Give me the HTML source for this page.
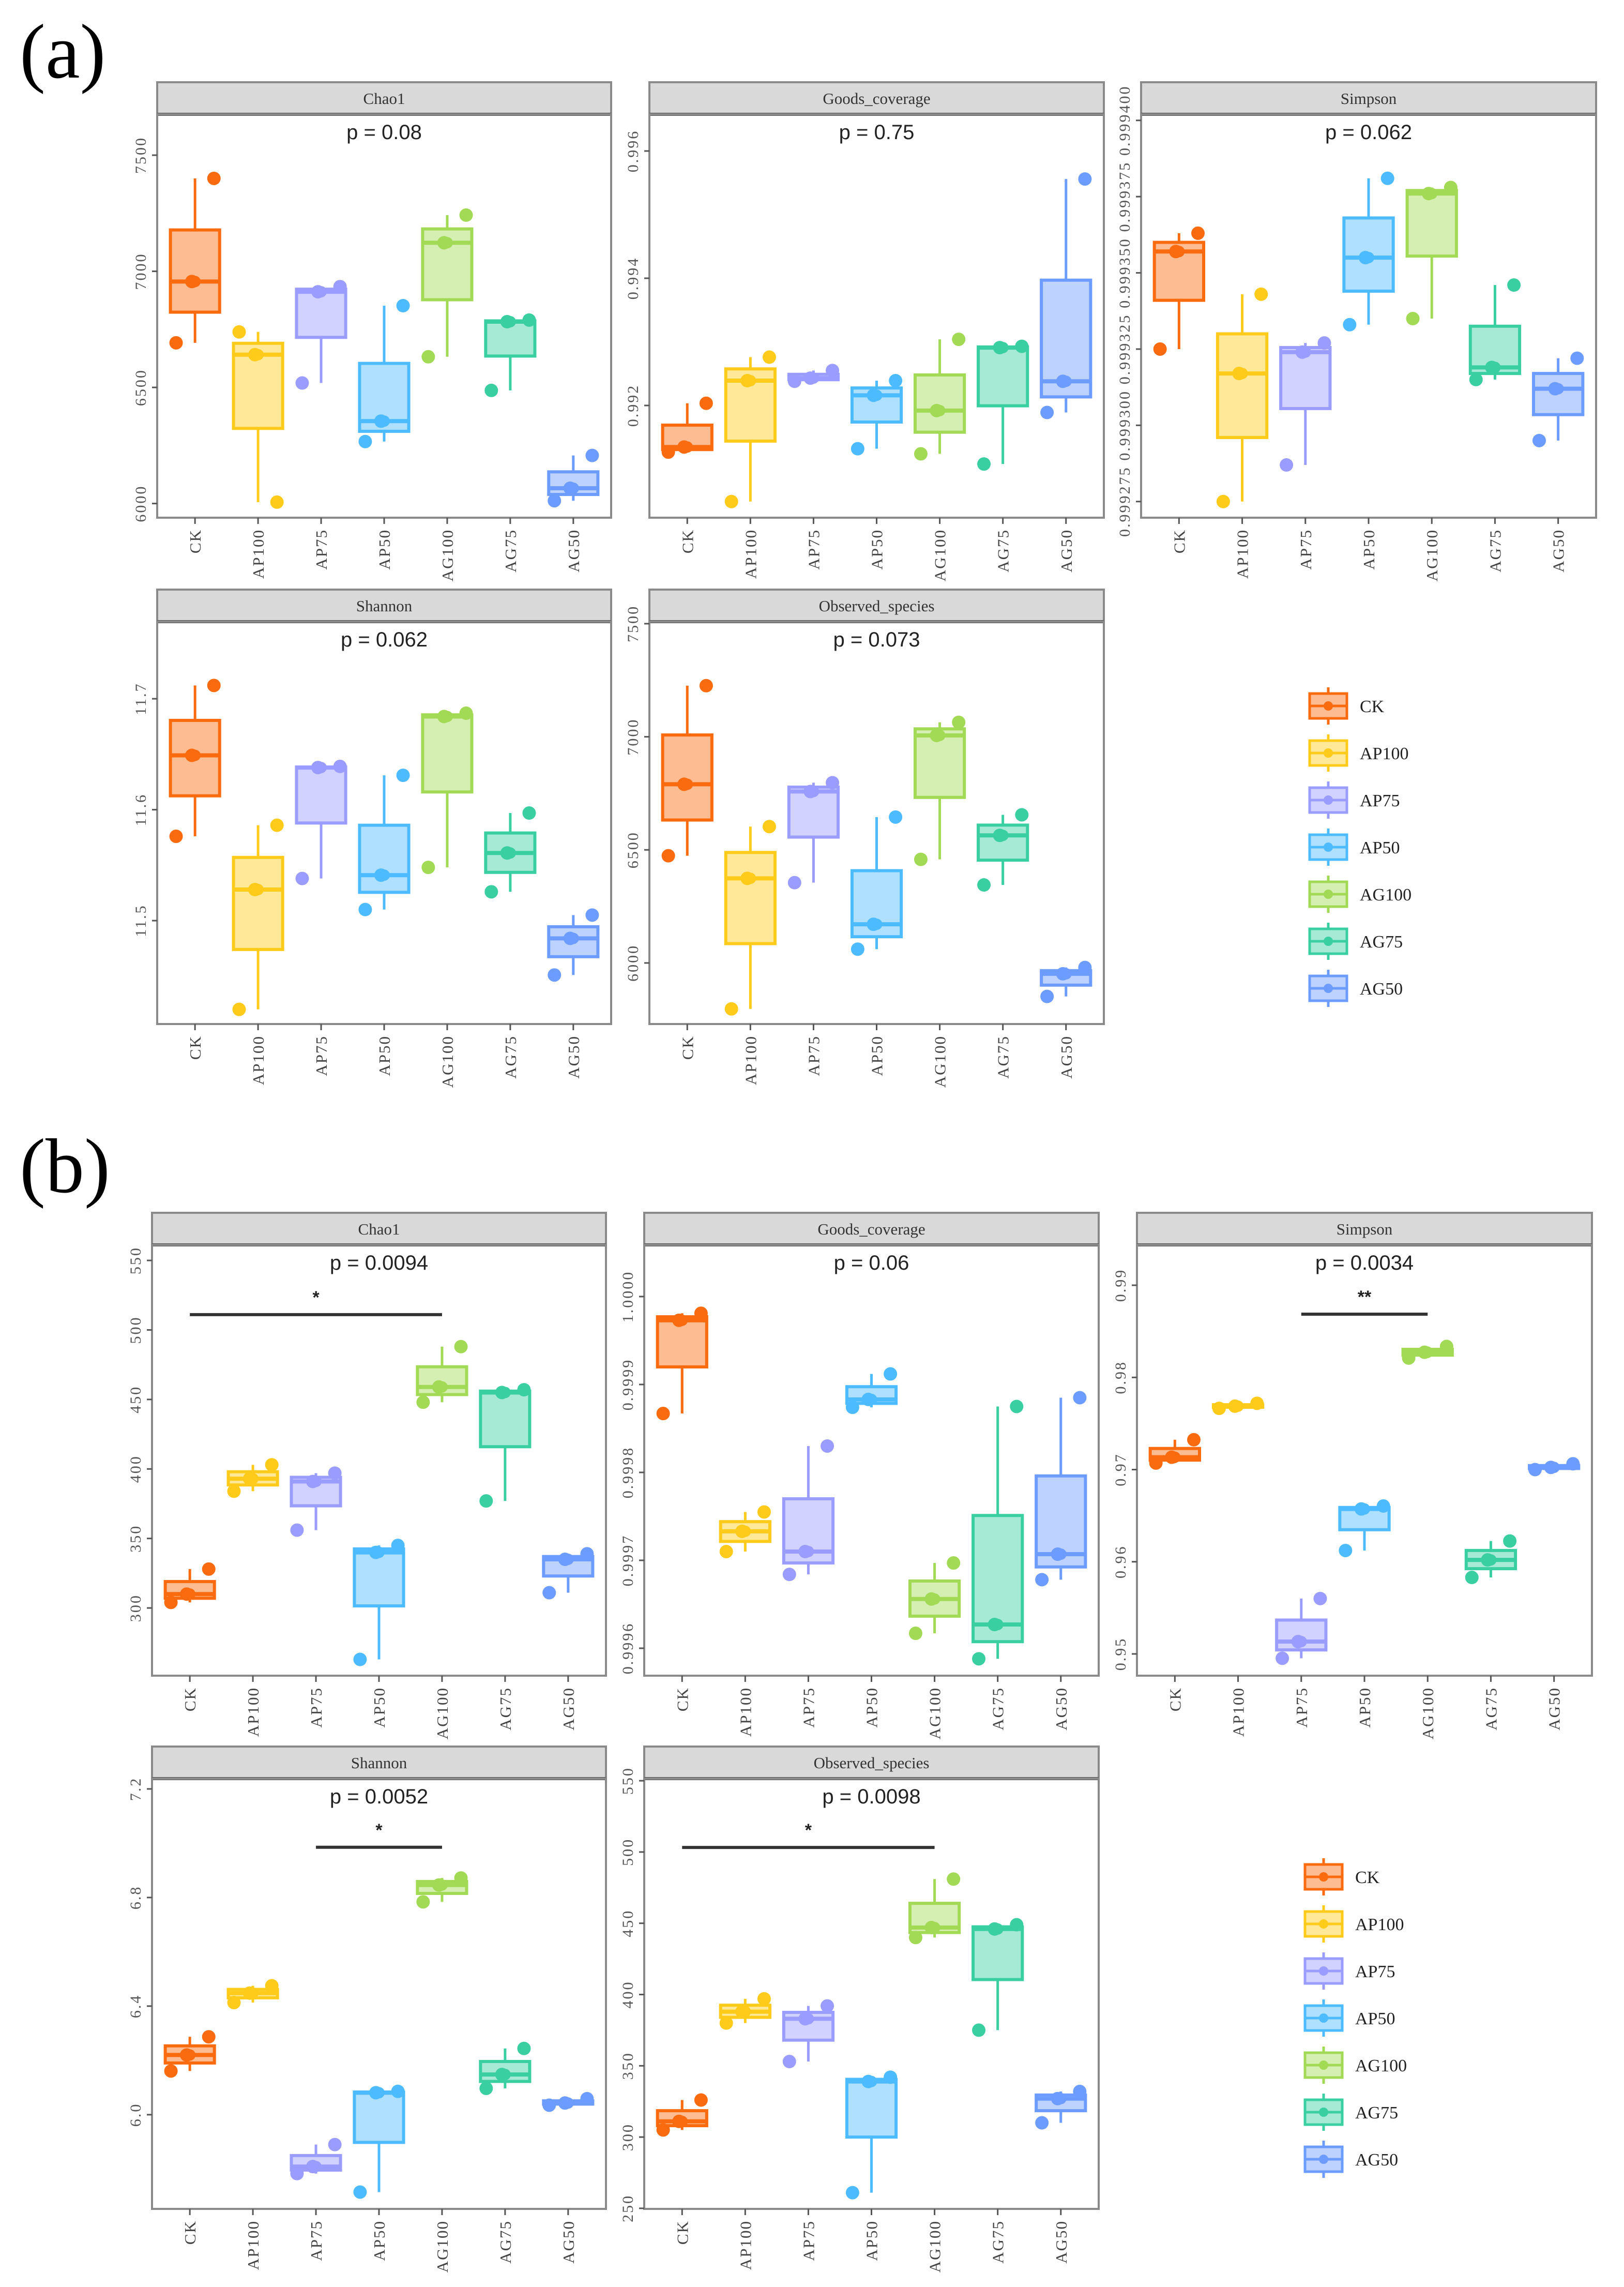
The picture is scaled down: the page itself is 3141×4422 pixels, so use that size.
<!DOCTYPE html>
<html><head><meta charset="utf-8">
<style>
html,body{margin:0;padding:0;background:#fff;}
svg{display:block;}
</style></head>
<body>
<svg id="fig" xmlns="http://www.w3.org/2000/svg" width="3141" height="4422" viewBox="0 0 3141 4422">
<rect x="0" y="0" width="3141" height="4422" fill="#ffffff"/>
<text x="38" y="150" font-family="Liberation Serif, serif" font-size="150">(a)</text>
<text x="38" y="2305" font-family="Liberation Serif, serif" font-size="150">(b)</text>
</svg>
<script>
// ---------- data ----------
const categories = ['CK','AP100','AP75','AP50','AG100','AG75','AG50'];
const colors = ['#FA6A0E','#FFCB1A','#9A9CFF','#4DBBFF','#A2DA55','#3ACFA0','#6C9CFF'];

// (a) three sample values per group
const chao1A = [[7400,6956,6692],[6006,6641,6739],[6934,6912,6519],[6852,6355,6267],[7242,7123,6632],[6790,6783,6487],[6207,6066,6012]];
const goodsA = [[0.992035,0.991347,0.991267],[0.99276,0.99239,0.99049],[0.99255,0.99243,0.99238],[0.99239,0.99216,0.99132],[0.99304,0.99192,0.99124],[0.99293,0.99291,0.99108],[0.99556,0.99238,0.99189]];
const simpsonA = [[0.999363,0.999357,0.999325],[0.999343,0.999317,0.999275],[0.999327,0.999324,0.999287],[0.999381,0.999355,0.999333],[0.999378,0.999376,0.999335],[0.999346,0.999319,0.999315],[0.999322,0.999312,0.999295]];
const shannonA = [[11.712,11.649,11.576],[11.586,11.528,11.420],[11.639,11.638,11.538],[11.631,11.541,11.510],[11.687,11.684,11.548],[11.597,11.561,11.526],[11.505,11.484,11.451]];
const observedA = [[7226,6790,6474],[6603,6374,5797],[6797,6758,6355],[6645,6171,6061],[7064,7006,6458],[6655,6564,6345],[5980,5952,5852]];
// (b)
const chao1B = [[328,310,304],[403,393,384],[397,391,356],[345,340,263],[488,459,448],[457,455,377],[339,335,311]];
const goodsB = [[0.999981,0.999973,0.999867],[0.999755,0.999733,0.99971],[0.99983,0.99971,0.999684],[0.999912,0.999883,0.999874],[0.999697,0.999656,0.999617],[0.999875,0.999627,0.999588],[0.999885,0.999707,0.999678]];
const simpsonB = [[0.97324,0.97134,0.97071],[0.97719,0.97688,0.97664],[0.95601,0.95134,0.94953],[0.96605,0.96573,0.96122],[0.98336,0.98273,0.9821],[0.96225,0.9602,0.9583],[0.97063,0.97024,0.97]];
const shannonB = [[6.287,6.22,6.161],[6.475,6.448,6.413],[5.89,5.809,5.783],[6.086,6.081,5.715],[6.872,6.846,6.784],[6.244,6.148,6.097],[6.059,6.043,6.035]];
const observedB = [[326,311,305],[397,388,380],[392,383,353],[342,339,261],[481,447,440],[449,446,375],[332,327,310]];

// tick labels
const chao1ATicks = ['6000','6500','7000','7500'];
const goodsATicks = ['0.992','0.994','0.996'];
const simpsonATicks = ['0.999275','0.999300','0.999325','0.999350','0.999375','0.999400'];
const shannonATicks = ['11.5','11.6','11.7'];
const observedATicks = ['6000','6500','7000','7500'];
const chao1BTicks = ['300','350','400','450','500','550'];
const goodsBTicks = ['0.9996','0.9997','0.9998','0.9999','1.0000'];
const simpsonBTicks = ['0.95','0.96','0.97','0.98','0.99'];
const shannonBTicks = ['6.0','6.4','6.8','7.2'];
const observedBTicks = ['250','300','350','400','450','500','550'];

// y-axis domains [bottom, top]
const chao1ADomain = [5939,7676];
const goodsADomain = [0.990236,0.996577];
const simpsonADomain = [0.9992697,0.999402];
const shannonADomain = [11.4068,11.7695];
const observedADomain = [5730,7509];
const chao1BDomain = [251.3,561.2];
const goodsBDomain = [0.9995688,1.0000588];
const simpsonBDomain = [0.94764,0.99438];
const shannonBDomain = [5.653,7.238];
const observedBDomain = [249.6,551.5];

// p-values and significance brackets [fromIndex, toIndex, yValue, label]
const pLabels = ['p = 0.08','p = 0.75','p = 0.062','p = 0.062','p = 0.073','p = 0.0094','p = 0.06','p = 0.0034','p = 0.0052','p = 0.0098'];
const sigChao1B = [0,4,511,'*'];
const sigSimpsonB = [2,4,0.98686,'**'];
const sigShannonB = [2,4,6.985,'*'];
const sigObservedB = [0,4,503.2,'*'];

// ---------- drawing ----------
const NS='http://www.w3.org/2000/svg';
const svg=document.getElementById('fig');
function el(tag,attrs,parent){const e=document.createElementNS(NS,tag);for(const k in attrs)e.setAttribute(k,attrs[k]);(parent||svg).appendChild(e);return e;}
const JIT=[0.3,-0.05,-0.3];

const panels=[
 {title:'Chao1',data:chao1A,ticks:chao1ATicks,dom:chao1ADomain,x0:304,x1:1182,top:159,sb:221,bot:1001,p:pLabels[0]},
 {title:'Goods_coverage',data:goodsA,ticks:goodsATicks,dom:goodsADomain,x0:1256,x1:2135,top:159,sb:221,bot:1001,p:pLabels[1]},
 {title:'Simpson',data:simpsonA,ticks:simpsonATicks,dom:simpsonADomain,x0:2207,x1:3087,top:159,sb:221,bot:1001,p:pLabels[2]},
 {title:'Shannon',data:shannonA,ticks:shannonATicks,dom:shannonADomain,x0:304,x1:1182,top:1140,sb:1202,bot:1980,p:pLabels[3]},
 {title:'Observed_species',data:observedA,ticks:observedATicks,dom:observedADomain,x0:1256,x1:2135,top:1140,sb:1202,bot:1980,p:pLabels[4]},
 {title:'Chao1',data:chao1B,ticks:chao1BTicks,dom:chao1BDomain,x0:294,x1:1172,top:2345,sb:2407,bot:3240,p:pLabels[5],sig:sigChao1B},
 {title:'Goods_coverage',data:goodsB,ticks:goodsBTicks,dom:goodsBDomain,x0:1246,x1:2125,top:2345,sb:2407,bot:3240,p:pLabels[6]},
 {title:'Simpson',data:simpsonB,ticks:simpsonBTicks,dom:simpsonBDomain,x0:2199,x1:3079,top:2345,sb:2407,bot:3240,p:pLabels[7],sig:sigSimpsonB},
 {title:'Shannon',data:shannonB,ticks:shannonBTicks,dom:shannonBDomain,x0:294,x1:1172,top:3377,sb:3439,bot:4271,p:pLabels[8],sig:sigShannonB},
 {title:'Observed_species',data:observedB,ticks:observedBTicks,dom:observedBDomain,x0:1246,x1:2125,top:3377,sb:3439,bot:4271,p:pLabels[9],sig:sigObservedB}
];

function quant(vals){const s=vals.slice().sort((a,b)=>a-b);const n=s.length;
 const q=p=>{const h=(n-1)*p,l=Math.floor(h),u=Math.ceil(h);return s[l]+(s[u]-s[l])*(h-l);};
 return [s[0],q(0.25),q(0.5),q(0.75),s[n-1]];}

panels.forEach((P,pi)=>{
 const g=el('g',{});
 
 
 const unit=(P.x1-P.x0)/7.2;
 const xs=i=>P.x0+(i+0.6)*unit;
 const ys=v=>P.bot-(v-P.dom[0])/(P.dom[1]-P.dom[0])*(P.bot-P.sb);
 // strip
 const strip=el('rect',{x:P.x0,y:P.top,width:P.x1-P.x0,height:P.sb-P.top,fill:'#D9D9D9',stroke:'#8a8a8a','stroke-width':4},g);
 
 
 el('line',{x1:P.x0,y1:P.sb,x2:P.x1,y2:P.sb,stroke:'#555','stroke-width':6},g);
 const st=el('text',{x:(P.x0+P.x1)/2,y:(P.top+P.sb)/2+11,'text-anchor':'middle','font-family':'Liberation Serif, serif','font-size':31,fill:'#333'},g);
 st.textContent=P.title;
 
 
 // panel border
 el('rect',{x:P.x0,y:P.sb,width:P.x1-P.x0,height:P.bot-P.sb,fill:'none',stroke:'#8a8a8a','stroke-width':4},g);
 // y ticks
 P.ticks.forEach(t=>{const v=parseFloat(t),y=ys(v);
  el('line',{x1:P.x0-10,y1:y,x2:P.x0,y2:y,stroke:'#555','stroke-width':3},g);
  const tx=el('text',{x:0,y:0,transform:`translate(${P.x0-22},${y}) rotate(-90)`,'text-anchor':'middle','font-family':'Liberation Serif, serif','font-size':30,fill:'#555','letter-spacing':3},g);
  tx.textContent=t;
  
  
 });
 // x ticks
 categories.forEach((c,i)=>{const x=xs(i);
  el('line',{x1:x,y1:P.bot,x2:x,y2:P.bot+12,stroke:'#555','stroke-width':3},g);
  const tx=el('text',{x:0,y:0,transform:`translate(${x+11},${P.bot+22}) rotate(-90)`,'text-anchor':'end','font-family':'Liberation Serif, serif','font-size':31,fill:'#444','letter-spacing':2},g);
  tx.textContent=c;
  
  
 });
 // p label
 const pt=el('text',{x:(P.x0+P.x1)/2,y:P.sb+48,'text-anchor':'middle','font-family':'Liberation Sans, sans-serif','font-size':40,fill:'#222'},g);
 pt.textContent=P.p;
 
 
 // significance
 if(P.sig){const [a,b,v,lab]=P.sig;const y=ys(v);
  const ln=el('line',{x1:xs(a),y1:y,x2:xs(b),y2:y,stroke:'#333','stroke-width':6},g);
  
  
  const s=el('text',{x:(xs(a)+xs(b))/2,y:y-22,'text-anchor':'middle','font-family':'Liberation Sans, sans-serif','font-size':34,'font-weight':'bold',fill:'#222'},g);
  s.textContent=lab;
  
  
 }
 // boxes
 P.data.forEach((vals,i)=>{
  const [mn,q1,md,q3,mx]=quant(vals);const x=xs(i),bw=unit*0.39,col=colors[i];
  const bg=el('g',{},g);
  
  
  el('line',{x1:x,y1:ys(mx),x2:x,y2:ys(q3),stroke:col,'stroke-width':5},bg);
  el('line',{x1:x,y1:ys(q1),x2:x,y2:ys(mn),stroke:col,'stroke-width':5},bg);
  el('rect',{x:x-bw,y:ys(q3),width:2*bw,height:Math.max(ys(q1)-ys(q3),1),fill:col,'fill-opacity':0.45,stroke:col,'stroke-width':6},bg);
  el('line',{x1:x-bw,y1:ys(md),x2:x+bw,y2:ys(md),stroke:col,'stroke-width':8},bg);
  el('circle',{cx:x,cy:ys(md),r:11,fill:col},bg);
  vals.forEach((v,k)=>{
   const c=el('circle',{cx:x+JIT[k]*unit,cy:ys(v),r:13,fill:col},bg);
   
   
  });
 });
});

// legends
function legend(x0,yc0){
 const lg=el('g',{});
 
 
 categories.forEach((c,i)=>{
  const yc=yc0+i*91,col=colors[i],cx=x0+36;
  const e=el('g',{},lg);
  
  
  el('line',{x1:cx,y1:yc-36,x2:cx,y2:yc+36,stroke:col,'stroke-width':5},e);
  el('rect',{x:x0,y:yc-24,width:72,height:48,fill:'#fff',stroke:'none'},e);
  el('rect',{x:x0,y:yc-24,width:72,height:48,fill:col,'fill-opacity':0.45,stroke:col,'stroke-width':5},e);
  el('line',{x1:x0,y1:yc,x2:x0+72,y2:yc,stroke:col,'stroke-width':5},e);
  el('circle',{cx:cx,cy:yc,r:9,fill:col},e);
  const t=el('text',{x:x0+97,y:yc+12,'font-family':'Liberation Serif, serif','font-size':34,fill:'#222'},e);
  t.textContent=c;
 });
}
legend(2533,1365);
legend(2524,3629);
</script>
</body></html>
